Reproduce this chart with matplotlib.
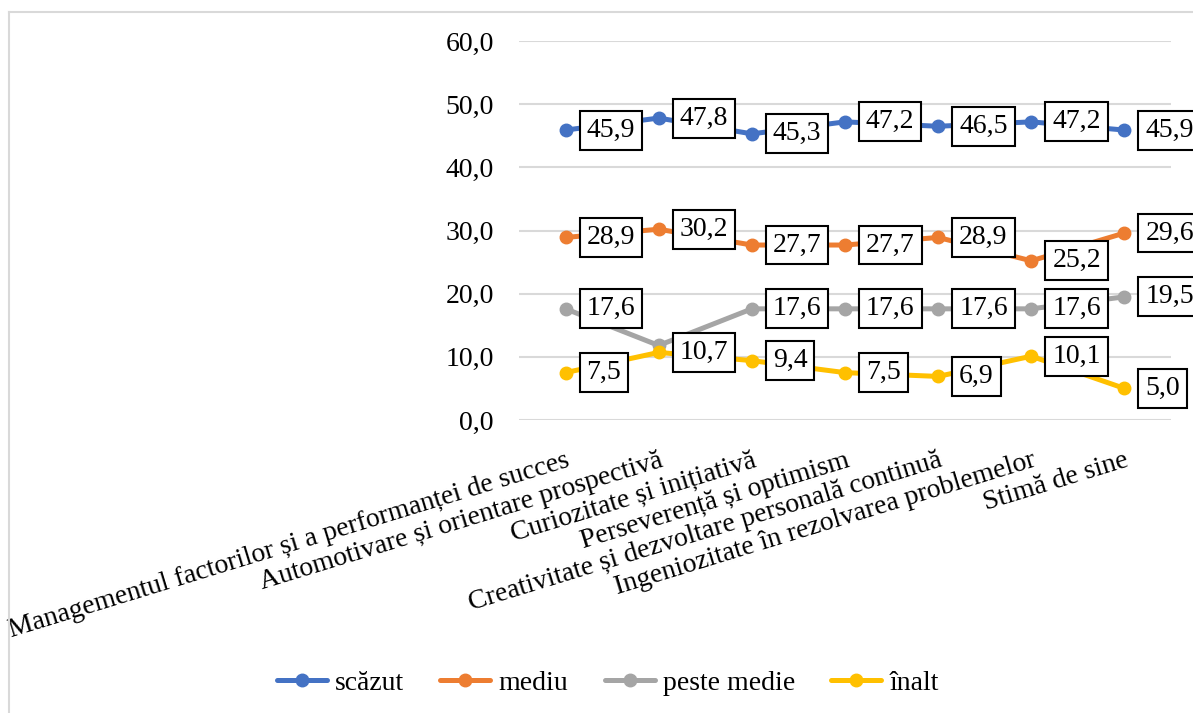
import matplotlib.pyplot as plt
import numpy as np

plt.rcParams['font.family'] = ['Liberation Serif', 'DejaVu Serif']

categories = [
    'Managementul factorilor și a performanței de succes',
    'Automotivare și orientare prospectivă',
    'Curiozitate și inițiativă',
    'Perseverență și optimism',
    'Creativitate și dezvoltare personală continuă',
    'Ingeniozitate în rezolvarea problemelor',
    'Stimă de sine',
]
scazut = [45.9, 47.8, 45.3, 47.2, 46.5, 47.2, 45.9]
mediu = [28.9, 30.2, 27.7, 27.7, 28.9, 25.2, 29.6]
peste_medie = [17.6, 11.8, 17.6, 17.6, 17.6, 17.6, 19.5]
inalt = [7.5, 10.7, 9.4, 7.5, 6.9, 10.1, 5.0]

series = [
    ('scăzut', scazut, '#4472C4'),
    ('mediu', mediu, '#ED7D31'),
    ('peste medie', peste_medie, '#A5A5A5'),
    ('înalt', inalt, '#FFC000'),
]
# the label of this point sits under the "înalt" label and is not shown
hidden = {('peste medie', 1)}

W, H = 1193, 713
fig = plt.figure(figsize=(W / 100, H / 100), dpi=100)
ax = fig.add_axes([519 / W, (H - 420) / H, (1171 - 519) / W, (420 - 41) / H])

x = np.arange(len(categories))
for name, vals, color in series:
    ax.plot(x, vals, color=color, lw=3.6, marker='o', ms=9,
            solid_capstyle='round', label=name, zorder=3)

for name, vals, color in series:
    for i, v in enumerate(vals):
        if (name, i) in hidden:
            continue
        ax.annotate(f'{v:.1f}'.replace('.', ','), (i, v),
                    xytext=(21, 0), textcoords='offset pixels',
                    ha='left', va='center', fontsize=20, zorder=5,
                    bbox=dict(boxstyle='square,pad=0.25', fc='white',
                              ec='black', lw=1.5))

ax.set_xlim(-0.5, len(categories) - 0.5)
ax.set_ylim(0, 60)
ax.set_yticks(np.arange(0, 61, 10))
ax.set_yticklabels([f'{t:.1f}'.replace('.', ',') for t in np.arange(0, 61, 10)])
ax.yaxis.grid(True, color='#D9D9D9', lw=1.5)
ax.set_axisbelow(True)
for s in ax.spines.values():
    s.set_visible(False)
ax.tick_params(axis='y', length=0, pad=18, labelsize=20)
ax.tick_params(axis='x', length=0, pad=20, labelsize=20)
ax.set_xticks(x)
ax.set_xticklabels(categories, rotation=17, ha='right', va='top',
                   rotation_mode='anchor')

fig.legend(loc='center', bbox_to_anchor=(608 / W, 1 - 683 / H), ncol=4,
           frameon=False, fontsize=20, handlelength=1.8, handletextpad=0.3,
           columnspacing=1.3)

# outer chart frame
fig.add_artist(plt.Line2D([9 / W, 9 / W], [0, 1 - 12 / H], color='#D9D9D9',
                          lw=1.5, transform=fig.transFigure))
fig.add_artist(plt.Line2D([9 / W, 1], [1 - 12 / H, 1 - 12 / H], color='#D9D9D9',
                          lw=1.5, transform=fig.transFigure))

fig.savefig('out.png', dpi=100)
